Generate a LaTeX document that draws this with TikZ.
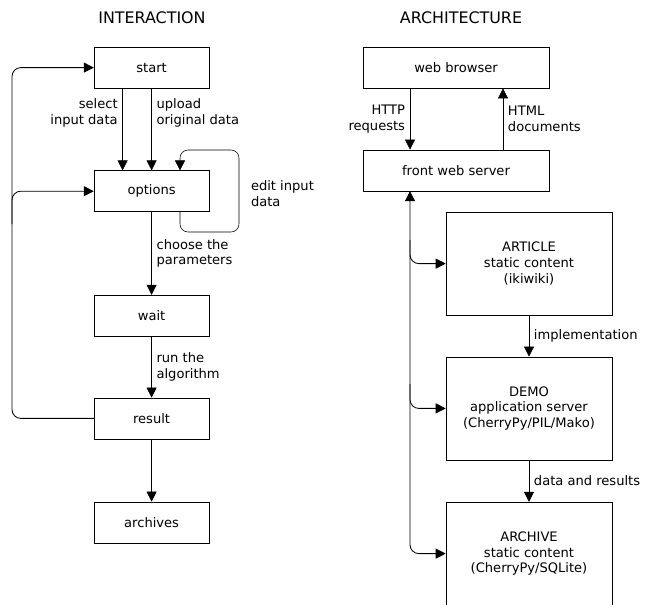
\documentclass[tikz,border=0pt]{standalone}
\usepackage{fontspec}
\setmainfont{DejaVu Sans}
\usetikzlibrary{arrows.meta}

\begin{document}
\begin{tikzpicture}[
  every node/.style={font=\fontsize{9.3}{11.2}\selectfont},
  title/.style={font=\fontsize{11.3}{13.6}\selectfont},
  step box/.style={draw, thin, minimum width=2.875cm, minimum height=1.025cm},
  part box/.style={draw, thin, minimum width=4.15cm, minimum height=2.575cm, align=center},
  arr/.style={-{Triangle[length=2.5mm,width=2.5mm]}, thin},
  back/.style={arr, semithick, rounded corners=0.22cm}
]
  \useasboundingbox (0,0) rectangle (16.2,-15.1);

  % interaction
  \node[title] (tint) at (3.8,-0.45) {INTERACTION};
  \node[step box] (start) at (3.79,-1.69) {start};
  \node[step box] (opts) at (3.79,-4.78) {options};
  \node[step box] (wait) at (3.79,-7.89) {wait};
  \node[step box] (result) at (3.79,-10.46) {result};
  \node[step box] (arch) at (3.79,-13.06) {archives};

  \draw[arr] ([xshift=-0.725cm]start.south) -- node[pos=0.3, left, align=right] {select\\input data} ([xshift=-0.725cm]opts.north);
  \draw[arr] (start.south) -- node[pos=0.3, right, align=left] {upload\\original data} (opts.north);
  \coordinate (loopbr) at (5.975,-5.8);
  \coordinate (looptr) at (5.975,-3.75);
  \draw[arr, rounded corners=0.2cm] ([xshift=0.71cm]opts.south) |- (loopbr)
    -- node[right=5pt, yshift=-2pt, align=left] {edit input\\data} (looptr) -| ([xshift=0.71cm]opts.north);
  \draw[arr] (opts) -- node[right, align=left] {choose the\\parameters} (wait);
  \draw[arr] (wait) -- node[right, align=left] {run the\\algorithm} (result);
  \draw[arr] (result) -- (arch);

  \coordinate (ret) at (0.3,0);
  \draw[back] (result.west) -| (ret |- start.west) -- (start.west);
  \draw[back] (0.3,-5.6) |- (opts.west);

  % architecture
  \node[title] (tarc) at (11.525,-0.45) {ARCHITECTURE};
  \node[draw, thin, minimum width=4.65cm, minimum height=1.025cm] (browser) at (11.4,-1.69) {web browser};
  \node[draw, thin, minimum width=4.65cm, minimum height=1.025cm] (front) at (11.4,-4.26) {front web server};
  \node[part box] (article) at (13.225,-6.59) {ARTICLE\\static content\\(ikiwiki)};
  \node[part box] (demo) at (13.225,-10.21) {DEMO\\application server\\(CherryPy/PIL/Mako)};
  \node[part box] (archive) at (13.225,-13.84) {ARCHIVE\\static content\\(CherryPy/SQLite)};

  \draw[arr] ([xshift=-1.15cm]browser.south) -- node[left, align=right] {HTTP\\requests} ([xshift=-1.15cm]front.north);
  \draw[arr] ([xshift=1.175cm]front.north) -- node[right, align=left] {HTML\\documents} ([xshift=1.175cm]browser.south);
  \draw[arr] (article) -- node[right] {implementation} (demo);
  \draw[arr] (demo) -- node[right] {data and results} (archive);

  \draw[back, {Triangle[length=2.5mm,width=2.5mm]}-{Triangle[length=2.5mm,width=2.5mm]}] (archive.west) -| ([xshift=-1.15cm]front.south);
  \draw[back] (10.25,-6.0) |- (article.west);
  \draw[back] (10.25,-9.6) |- (demo.west);
\end{tikzpicture}
\end{document}
